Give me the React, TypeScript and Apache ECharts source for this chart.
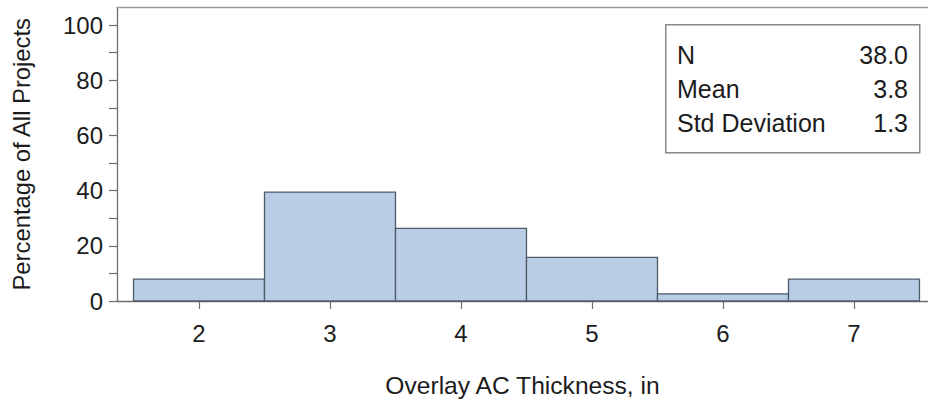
import React, { useEffect, useRef } from "react";
import * as echarts from "echarts";

// Histogram bins (bin centers, inches) and percentage of projects
const binCenters = [2, 3, 4, 5, 6, 7];
const percentages = [7.9, 39.5, 26.3, 15.8, 2.6, 7.9];
const binWidth = 1;

// Axis ticks / labels
const xTickValues = [2, 3, 4, 5, 6, 7];
const yTickValues = [0, 10, 20, 30, 40, 50, 60, 70, 80, 90, 100];
const yLabelValues = [0, 20, 40, 60, 80, 100];

// Summary statistics inset
const statLabels = ["N", "Mean", "Std Deviation"];
const statValues = ["38.0", "3.8", "1.3"];

const FONT = "'Liberation Sans', Arial, sans-serif";
const TEXT = "#1c1c1c";
const AXIS = "#6e6e6e";

export default function App() {
  const ref = useRef<HTMLDivElement>(null);

  useEffect(() => {
    if (!ref.current) return;
    const chart = echarts.init(ref.current, undefined, { renderer: "svg" });

    const data = binCenters.map((c, i) => [c, percentages[i]]);

    const statRowsY = [56, 90, 124];
    const statTexts: any[] = [];
    statLabels.forEach((lab, i) => {
      statTexts.push({
        type: "text",
        left: 677,
        top: statRowsY[i] - 13.5,
        style: { text: lab, font: `25px ${FONT}`, fill: TEXT },
      });
      statTexts.push({
        type: "text",
        right: 928 - 908,
        top: statRowsY[i] - 13.5,
        style: { text: statValues[i], font: `25px ${FONT}`, fill: TEXT, textAlign: "right" },
      });
    });

    chart.setOption({
      animation: false,
      backgroundColor: "#ffffff",
      grid: { left: 117, right: 0, top: 7.5, bottom: 103, containLabel: false },
      xAxis: [
        {
          type: "value",
          min: 1.374,
          max: 7.565,
          position: "bottom",
          name: "Overlay AC Thickness, in",
          nameLocation: "middle",
          nameGap: 72,
          nameTextStyle: { fontFamily: FONT, fontSize: 24.6, color: TEXT },
          axisLine: { show: true, lineStyle: { color: AXIS, width: 1.3 } },
          axisTick: { show: true, length: 8, customValues: xTickValues, lineStyle: { color: AXIS, width: 1.2 } },
          axisLabel: { customValues: xTickValues, margin: 20, fontFamily: FONT, fontSize: 24, color: TEXT },
          splitLine: { show: false },
        },
        {
          type: "value",
          min: 1.374,
          max: 7.565,
          position: "top",
          axisLine: { show: true, lineStyle: { color: "#9a9a9a", width: 1.3 } },
          axisTick: { show: false },
          axisLabel: { show: false },
          splitLine: { show: false },
        },
      ],
      yAxis: {
        type: "value",
        min: 0,
        max: 106.4,
        name: "Percentage of All Projects",
        nameLocation: "middle",
        nameGap: 84,
        nameRotate: 90,
        nameTextStyle: { fontFamily: FONT, fontSize: 23.8, color: TEXT },
        axisLine: { show: true, lineStyle: { color: AXIS, width: 1.3 } },
        axisTick: { show: true, length: 8, customValues: yTickValues, lineStyle: { color: AXIS, width: 1.2 } },
        axisLabel: {
          customValues: yLabelValues,
          margin: 14,
          padding: [5, 0, 0, 0],
          fontFamily: FONT,
          fontSize: 24,
          color: TEXT,
        },
        splitLine: { show: false },
      },
      series: [
        {
          type: "custom",
          xAxisIndex: 0,
          yAxisIndex: 0,
          data,
          renderItem: (params: any, api: any) => {
            const c = api.value(0);
            const v = api.value(1);
            const p0 = api.coord([c - binWidth / 2, v]);
            const p1 = api.coord([c + binWidth / 2, 0]);
            return {
              type: "rect",
              shape: { x: p0[0], y: p0[1], width: p1[0] - p0[0], height: p1[1] - p0[1] },
              style: { fill: "#b9cde6", stroke: "#4f5a67", lineWidth: 1.3 },
            };
          },
        },
      ],
      graphic: [
        {
          type: "rect",
          left: 665,
          top: 24,
          shape: { width: 254, height: 128 },
          style: { fill: "#ffffff", stroke: "#8a8a8a", lineWidth: 1.5 },
        },
        ...statTexts,
      ],
    });

    return () => chart.dispose();
  }, []);

  return (
    <div
      ref={ref}
      style={{ position: "fixed", left: 0, top: 0, width: 928, height: 404 }}
    />
  );
}
